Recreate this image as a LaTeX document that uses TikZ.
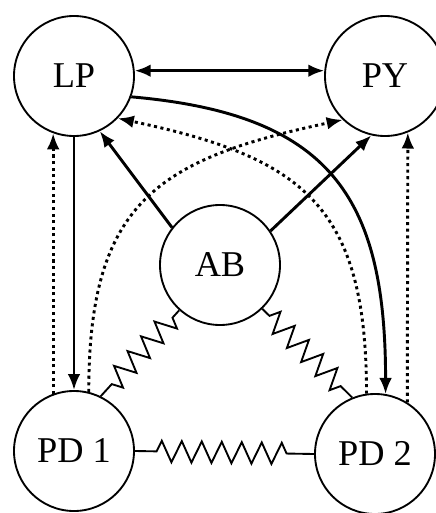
\documentclass[tikz,border=0pt]{standalone}
\usepackage{fontspec}
\setmainfont{Liberation Serif}
\usetikzlibrary{arrows.meta,decorations.pathmorphing}
\begin{document}
\begin{tikzpicture}[x=0.03cm,y=0.03cm,
  circ/.style={draw, circle, line width=1.6pt, minimum size=3.6cm, inner sep=0pt, font=\fontsize{31}{37}\selectfont},
  tip/.style={},
  arr/.style={line width=2.5pt, -{Latex[length=0.48cm,width=0.38cm]}},
  dblarr/.style={line width=2.5pt, {Latex[length=0.48cm,width=0.38cm]}-{Latex[length=0.48cm,width=0.38cm]}},
  dotarr/.style={line width=2.5pt, dash pattern=on 2.6pt off 3pt, -{Latex[length=0.48cm,width=0.38cm]}},
  spring/.style={line width=1.6pt, decorate, decoration={zigzag, segment length=0.6cm, amplitude=0.32cm, pre length=#1, post length=#1}}
]
\useasboundingbox (0,0) rectangle (435,-513);
\node[circ] (LP)  at (74,-76)  {LP};
\node[circ] (PY)  at (385,-76) {PY};
\node[circ] (AB)  at (220,-265) {AB};
\node[circ] (PD1) at (74,-451) {PD 1};
\node[circ] (PD2) at (375,-454) {PD 2};

% LP <-> PY
\draw[dblarr] (LP.5) -- (PY.175);
% LP -> PD2 curved
\draw[arr] (LP.-20) to[out=-5,in=90,looseness=1.3] (PD2.80);
% LP -> PD1
\draw[arr] (LP.-90) -- (PD1.90);
% PD1 -> LP dotted
\draw[dotarr] (PD1.110) -- (LP.250);
% PD2 -> PY dotted
\draw[dotarr] (PD2.58) -- (PY.-68.5);
% PD1 -> PY dotted curve
\draw[dotarr] (PD1.76) to[out=90,in=-168,looseness=1.3] (PY.226);
% PD2 -> LP dotted curve
\draw[dotarr] (PD2.98) to[out=90,in=-12,looseness=1.3] (LP.-44);
% AB -> LP, AB -> PY
\draw[arr] (AB.142) -- (LP.-65);
\draw[arr] (AB.34) -- (PY.-103);
% springs
\draw[spring=0.3cm] (AB.228) -- (PD1.64);
\draw[spring=0.3cm] (AB.-46) -- (PD2.112);
\draw[spring=0.65cm] (PD1.0) -- (PD2.180);
\end{tikzpicture}
\end{document}
